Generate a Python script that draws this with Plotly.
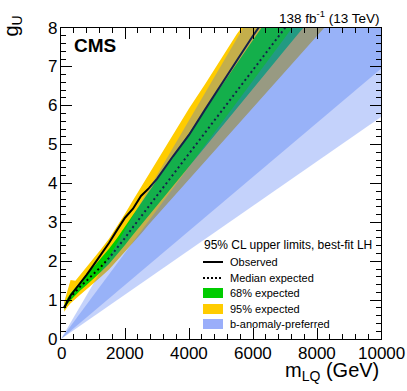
import plotly.graph_objects as go

# ---------------- data ----------------
mass = [100, 200, 300, 450, 600, 800, 1000, 1250, 1500, 1750, 2000, 2250, 2500,
        2750, 3000, 3500, 4000, 4500, 5000, 5500, 6000, 6500, 7000, 7500, 8000,
        8500, 9000]
observed = [0.80, 0.98, 1.12, 1.28, 1.43, 1.65, 1.88, 2.17, 2.47, 2.80, 3.12, 3.35,
            3.68, 3.88, 4.12, 4.70, 5.25, 5.90, 6.52, 7.17, 7.80, 8.40, 9.00, 9.60,
            10.2, 10.8, 11.4]
expected = [0.82, 0.97, 1.08, 1.22, 1.35, 1.50, 1.65, 1.86, 2.08, 2.33, 2.60, 2.88,
            3.15, 3.43, 3.70, 4.25, 4.78, 5.32, 5.86, 6.39, 6.93, 7.46, 8.00, 8.54,
            9.07, 9.61, 10.14]
exp_p1 = [0.86, 1.05, 1.18, 1.33, 1.48, 1.66, 1.84, 2.07, 2.32, 2.59, 2.89, 3.20,
          3.50, 3.81, 4.11, 4.72, 5.31, 5.91, 6.50, 7.09, 7.69, 8.28, 8.88, 9.48,
          10.07, 10.67, 11.26]
exp_m1 = [0.76, 0.90, 1.00, 1.13, 1.25, 1.39, 1.53, 1.73, 1.93, 2.16, 2.42, 2.68,
          2.93, 3.19, 3.44, 3.95, 4.45, 4.95, 5.45, 5.94, 6.44, 6.94, 7.44, 7.94,
          8.44, 8.94, 9.43]
exp_p2 = [0.95, 1.25, 1.52, 1.50, 1.65, 1.85, 2.05, 2.31, 2.58, 2.89, 3.22, 3.57,
          3.91, 4.25, 4.59, 5.27, 5.93, 6.55, 7.20, 7.85, 8.40, 8.95, 9.50, 10.05,
          10.6, 11.15, 11.7]
exp_m2 = [0.70, 0.82, 0.92, 1.03, 1.14, 1.28, 1.41, 1.60, 1.79, 2.00, 2.24, 2.48,
          2.71, 2.95, 3.18, 3.66, 4.11, 4.58, 5.04, 5.50, 5.96, 6.42, 6.88, 7.34,
          7.80, 8.26, 8.72]

# b-anomaly-preferred region (g_U proportional to m_LQ)
ba_mass = [0, 10000]
ba_2s_low = [0, 5.71]
ba_2s_high = [0, 14.06]
ba_1s_low = [0, 6.95]
ba_1s_high = [0, 11.08]

x_ticks = [0, 2000, 4000, 6000, 8000, 10000]
y_ticks = [0, 1, 2, 3, 4, 5, 6, 7, 8]

# ---------------- styles ----------------
YELLOW = "#ffcc00"
GREEN = "#00cc00"
BLUE_A = "rgba(65,111,242,0.31)"
BLUE_B = "rgba(65,111,242,0.33)"
BLUE_LEG = "#9aaefa"
FONT = "Liberation Sans, Arial, Helvetica, sans-serif"


def band(xs, lo, hi, color):
    return go.Scatter(x=list(xs) + list(xs)[::-1], y=list(hi) + list(lo)[::-1],
                      fill="toself", fillcolor=color, line=dict(width=0),
                      mode="lines", hoverinfo="skip", showlegend=False)


fig = go.Figure()
fig.add_trace(band(mass, exp_m2, exp_p2, YELLOW))
fig.add_trace(band(mass, exp_m1, exp_p1, GREEN))
fig.add_trace(go.Scatter(x=mass, y=observed, mode="lines",
                         line=dict(color="black", width=2), showlegend=False))
fig.add_trace(go.Scatter(x=mass, y=expected, mode="lines",
                         line=dict(color="black", width=2, dash="2px,3px"),
                         showlegend=False))
fig.add_trace(band(ba_mass, ba_2s_low, ba_2s_high, BLUE_A))
fig.add_trace(band(ba_mass, ba_1s_low, ba_1s_high, BLUE_B))

axis_common = dict(showline=True, linecolor="black", linewidth=1, mirror="allticks",
                   ticks="inside", ticklen=11, tickwidth=1, tickcolor="black",
                   showgrid=False, zeroline=False, showticklabels=False)
fig.update_xaxes(range=[0, 10000], tickvals=x_ticks,
                 minor=dict(dtick=400, ticklen=5, ticks="inside", tickcolor="black",
                            showgrid=False),
                 **axis_common)
fig.update_yaxes(range=[0, 8], tickvals=y_ticks,
                 minor=dict(dtick=0.2, ticklen=5, ticks="inside", tickcolor="black",
                            showgrid=False),
                 **axis_common)

# the page body margin is removed by post_script, so the figure starts at (0, 0)
OFF = 0
W, H = 407 - OFF, 391 - OFF
X0, X1, Y0, Y1 = 61, 381, 28, 339          # plot area in window pixels
L, R, T, B = X0 - OFF, W + OFF - X1, Y0 - OFF, H + OFF - Y1
pw, ph = X1 - X0, Y1 - Y0


def px(xp):
    return (xp - X0) / pw


def py(yp):
    return (Y1 - yp) / ph


ann = []
# tick labels
for v in x_ticks:
    ann.append(dict(text=str(v), x=v, xref="x", y=py(353), yref="paper",
                    xanchor="center", yanchor="middle",
                    font=dict(family=FONT, size=17, color="black")))
for v in y_ticks:
    ann.append(dict(text=str(v), x=px(58.5), xref="paper", y=v, yref="y",
                    xanchor="right", yanchor="middle",
                    font=dict(family=FONT, size=17, color="black")))

ann.append(dict(text="<b>CMS</b>", x=px(72), y=py(45), xanchor="left", yanchor="middle",
                font=dict(family=FONT, size=19, color="black")))
ann.append(dict(text="138 fb<sup>-1</sup> (13 TeV)", x=1.0, y=py(17), xanchor="right",
                yanchor="middle", font=dict(family=FONT, size=13.5, color="black")))
ann.append(dict(text="m<sub>LQ</sub> (GeV)", x=1.0, y=py(371), xanchor="right",
                yanchor="middle", font=dict(family=FONT, size=20, color="black")))
ann.append(dict(text="g<sub>U</sub>", x=px(12), y=py(14), xanchor="center", yanchor="top",
                textangle=-90, font=dict(family=FONT, size=20, color="black")))
ann.append(dict(text="95% CL upper limits, best-fit LH", x=px(202), y=py(245),
                xanchor="left", yanchor="middle",
                font=dict(family=FONT, size=12, color="black")))
labels = ["Observed", "Median expected", "68% expected", "95% expected",
          "b-anomaly-preferred"]
ys = [262, 278, 293, 309, 324]
for lab, yy in zip(labels, ys):
    ann.append(dict(text=lab, x=px(228), y=py(yy), xanchor="left", yanchor="middle",
                    font=dict(family=FONT, size=11, color="black")))
for a in ann:
    a.setdefault("xref", "paper")
    a.setdefault("yref", "paper")
    a.update(showarrow=False)

shapes = [
    dict(type="line", x0=px(203), x1=px(223), y0=py(262), y1=py(262),
         line=dict(color="black", width=2)),
    dict(type="line", x0=px(203), x1=px(223), y0=py(278), y1=py(278),
         line=dict(color="black", width=2, dash="2px,2px")),
    dict(type="rect", x0=px(203), x1=px(223), y0=py(298), y1=py(288),
         fillcolor=GREEN, line=dict(width=0)),
    dict(type="rect", x0=px(203), x1=px(223), y0=py(314), y1=py(304),
         fillcolor=YELLOW, line=dict(width=0)),
    dict(type="rect", x0=px(203), x1=px(223), y0=py(329), y1=py(319),
         fillcolor=BLUE_LEG, line=dict(width=0)),
]
for s in shapes:
    s.update(xref="paper", yref="paper")

fig.update_layout(width=W, height=H, margin=dict(l=L, r=R, t=T, b=B),
                  plot_bgcolor="white", paper_bgcolor="white",
                  annotations=ann, shapes=shapes, showlegend=False,
                  hovermode=False,
                  font=dict(family=FONT, color="black"))
fig.write_html("out.html",
               config={"displayModeBar": False, "staticPlot": True},
               post_script="document.body.style.margin='0';"
                           "document.body.style.overflow='hidden';")
